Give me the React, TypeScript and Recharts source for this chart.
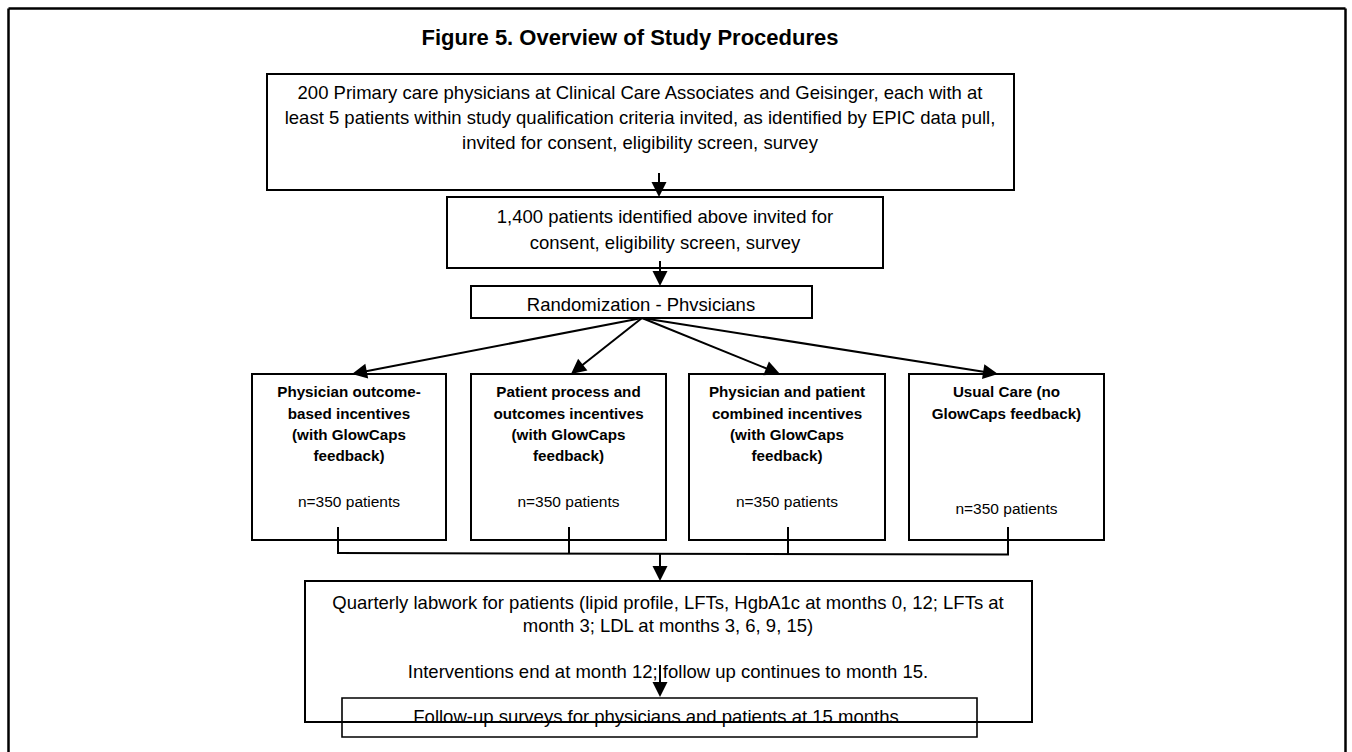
import React from 'react';
import { ComposedChart, XAxis, YAxis, ReferenceArea, ReferenceLine, Scatter } from 'recharts';

const WIDTH = 1352;
const HEIGHT = 752;
const FONT = "'Liberation Sans', Arial, Helvetica, sans-serif";

// ---- text content ----
const titleText = ['Figure 5. Overview of Study Procedures'];
const physicianInvite = [
  '200 Primary care physicians at Clinical Care Associates and Geisinger, each with at',
  'least 5 patients within study qualification criteria invited, as identified by EPIC data pull,',
  'invited for consent, eligibility screen, survey',
];
const patientInvite = ['1,400 patients identified above invited for', 'consent, eligibility screen, survey'];
const randomizationText = ['Randomization - Phvsicians'];
const armNames = [
  ['Physician outcome-', 'based incentives', '(with GlowCaps', 'feedback)'],
  ['Patient process and', 'outcomes incentives', '(with GlowCaps', 'feedback)'],
  ['Physician and patient', 'combined incentives', '(with GlowCaps', 'feedback)'],
  ['Usual Care (no', 'GlowCaps feedback)'],
];
const armSizes = ['n=350 patients', 'n=350 patients', 'n=350 patients', 'n=350 patients'];
const labworkText = [
  'Quarterly labwork for patients (lipid profile, LFTs, HgbA1c at months 0, 12; LFTs at',
  'month 3; LDL at months 3, 6, 9, 15)',
  '',
  'Interventions end at month 12; follow up continues to month 15.',
];
const followUpText = ['Follow-up surveys for physicians and patients at 15 months'];

// ---- layout (chart units, 1 unit = 1 px) ----
const boxPhys = { x1: 267, x2: 1014, y1: 74, y2: 190 };
const boxPat = { x1: 447, x2: 883, y1: 197, y2: 268 };
const boxRand = { x1: 471, x2: 812, y1: 286, y2: 318 };
const armX1 = [252, 471, 689, 909];
const armX2 = [446, 666, 885, 1104];
const armY = { y1: 374, y2: 540 };
const boxLab = { x1: 305, x2: 1032, y1: 581, y2: 722 };
const boxFollow = { x1: 342, x2: 977, y1: 698, y2: 737 };

const fanOrigin = { x: 642, y: 318 };
const fanTargets = [352, 571, 780, 998];
const bracketX = [338, 569, 788, 1008];

type TP = { x: number; y: number; text: string; size: number; bold?: boolean };

const block = (lines: string[], x: number, y0: number, step: number, size: number, bold = false): TP[] =>
  lines
    .map((t, i) => ({ x, y: y0 + i * step, text: t, size, bold }))
    .filter((p) => p.text !== '');

const armCenters = armX1.map((a, i) => (a + armX2[i]) / 2);

const textPoints: TP[] = [
  ...block(titleText, 630, 37, 0, 22, true),
  ...block(physicianInvite, 640, 93, 25, 18.5),
  ...block(patientInvite, 665, 217, 26, 18.5),
  ...block(randomizationText, 641, 305, 0, 18.5),
  ...armNames.flatMap((lines, i) => block(lines, armCenters[i], 392, 21.3, 15.2, true)),
  ...armSizes.map((t, i) => ({ x: armCenters[i], y: i === 3 ? 509 : 502, text: t, size: 15.5 })),
  ...block(labworkText, 668, 603, 23, 18.5),
  ...block(followUpText, 656, 717, 0, 18.5),
];

const TextShape = (props: any) => {
  const { cx, cy, payload } = props;
  return (
    <text
      x={cx}
      y={cy}
      dy="0.35em"
      textAnchor="middle"
      fontFamily={FONT}
      fontSize={payload.size}
      fontWeight={payload.bold ? 'bold' : 'normal'}
      fill="#000"
    >
      {payload.text}
    </text>
  );
};

const arrowShape = (head: boolean, width = 2) => (props: any) => {
  const x1 = Number(props.x1);
  const y1 = Number(props.y1);
  const x2 = Number(props.x2);
  const y2 = Number(props.y2);
  if (!head) {
    return <line x1={x1} y1={y1} x2={x2} y2={y2} stroke="#000" strokeWidth={width} />;
  }
  const dx = x2 - x1;
  const dy = y2 - y1;
  const len = Math.hypot(dx, dy) || 1;
  const ux = dx / len;
  const uy = dy / len;
  const L = 15;
  const hw = 7.5;
  const bx = x2 - ux * L;
  const by = y2 - uy * L;
  const pts = `${x2},${y2} ${bx - uy * hw},${by + ux * hw} ${bx + uy * hw},${by - ux * hw}`;
  return (
    <g>
      <line x1={x1} y1={y1} x2={bx + ux * 2} y2={by + uy * 2} stroke="#000" strokeWidth={width} />
      <polygon points={pts} fill="#000" />
    </g>
  );
};

const Box = (b: { x1: number; x2: number; y1: number; y2: number }, key: string, sw = 2) => (
  <ReferenceArea
    key={key}
    x1={b.x1}
    x2={b.x2}
    y1={b.y1}
    y2={b.y2}
    fill="none"
    fillOpacity={0}
    stroke="#000"
    strokeWidth={sw}
    ifOverflow="visible"
  />
);

const Seg = (a: { x: number; y: number }, b: { x: number; y: number }, key: string, head: boolean, w = 2) => (
  <ReferenceLine
    key={key}
    segment={[a, b]}
    stroke="#000"
    strokeWidth={w}
    ifOverflow="visible"
    shape={arrowShape(head, w)}
  />
);

export default function App() {
  return (
    <div style={{ position: 'absolute', left: 0, top: 0, width: WIDTH, height: HEIGHT, background: '#fff' }}>
      <ComposedChart width={WIDTH} height={HEIGHT} margin={{ top: 0, right: 0, bottom: 0, left: 0 }}>
        <XAxis type="number" dataKey="x" domain={[0, WIDTH]} allowDataOverflow hide height={0} />
        <YAxis type="number" dataKey="y" domain={[0, HEIGHT]} allowDataOverflow reversed hide width={0} />

        {/* outer frame */}
        {Seg({ x: 8.5, y: 8.5 }, { x: 8.5, y: HEIGHT }, 'fl', false, 2.5)}
        {Seg({ x: 8.5, y: 8.5 }, { x: 1345.5, y: 8.5 }, 'ft', false, 2.5)}
        {Seg({ x: 1345.5, y: 8.5 }, { x: 1345.5, y: HEIGHT }, 'fr', false, 2.5)}

        {Box(boxPhys, 'b1')}
        {Box(boxPat, 'b2')}
        {Box(boxRand, 'b3')}
        {armX1.map((x1, i) => Box({ x1, x2: armX2[i], ...armY }, `arm${i}`))}
        {Box(boxLab, 'lab')}
        {Box(boxFollow, 'fu', 1.6)}

        {Seg({ x: 659, y: 173 }, { x: 659, y: 197 }, 'a1', true)}
        {Seg({ x: 660, y: 261 }, { x: 660, y: 286 }, 'a2', true)}
        {fanTargets.map((tx, i) => Seg(fanOrigin, { x: tx, y: armY.y1 }, `fan${i}`, true))}
        {bracketX.map((bx, i) => Seg({ x: bx, y: 527 }, { x: bx, y: 554 }, `br${i}`, false))}
        {Seg({ x: bracketX[0] - 1, y: 553 }, { x: bracketX[3] + 1, y: 554.5 }, 'brh', false)}
        {Seg({ x: 660, y: 553 }, { x: 660, y: 581 }, 'a3', true)}
        {Seg({ x: 660, y: 665 }, { x: 660, y: 697 }, 'a4', true)}

        <Scatter data={textPoints} shape={TextShape} isAnimationActive={false} />
      </ComposedChart>
    </div>
  );
}
